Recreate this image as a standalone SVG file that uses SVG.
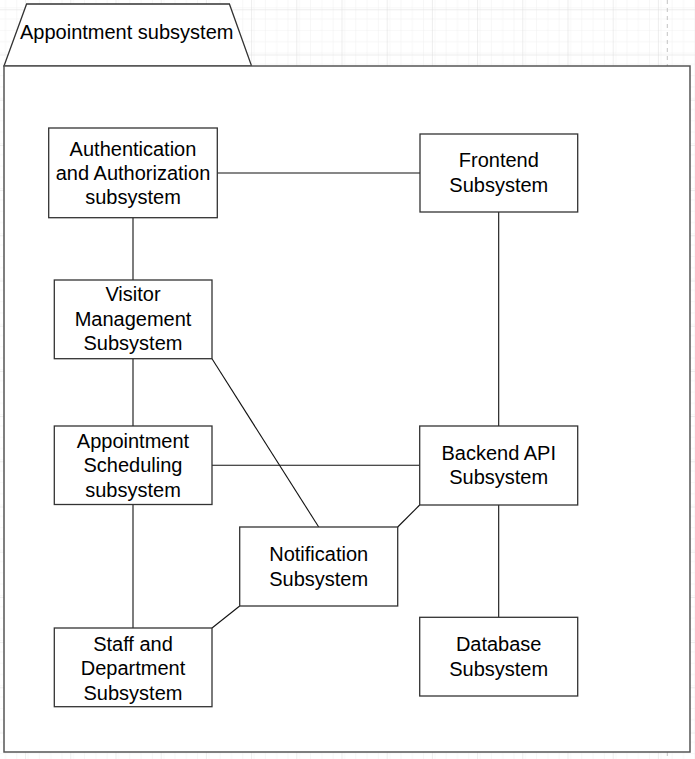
<svg xmlns="http://www.w3.org/2000/svg" width="695" height="759" viewBox="0 0 695 759">
<defs>
<pattern id="minor" patternUnits="userSpaceOnUse" x="2.5" y="9.3" width="11.3" height="11.3">
<path d="M0,0 H11.3 M0,0 V11.3" fill="none" stroke="#f0f0f0" stroke-width="1"/>
</pattern>
<pattern id="major" patternUnits="userSpaceOnUse" x="25.1" y="9.3" width="45.2" height="45.2">
<rect width="45.2" height="45.2" fill="url(#minor)"/>
<path d="M0,0 H45.2 M0,0 V45.2" fill="none" stroke="#dcdcdc" stroke-width="1"/>
</pattern>
</defs>
<style>
.box{fill:#fff;stroke:#333;stroke-width:1.3}
.lbl{font-family:"Liberation Sans",Arial,sans-serif;font-size:20px;fill:#000;text-anchor:middle}
.edge{stroke:#111;stroke-width:1.1;fill:none}
</style>
<rect width="695" height="759" fill="#fff"/>
<rect width="695" height="759" fill="url(#major)"/>
<line x1="667.3" y1="0" x2="667.3" y2="759" stroke="#c4c4c4" stroke-width="1" stroke-dasharray="4,4"/>
<g id="container">
<path d="M4,66 L26.6,4 L229.4,4 L251.6,66 Z" fill="#fff" stroke="#333" stroke-width="1.3"/>
<rect x="4" y="66" width="686" height="686" fill="#fff" stroke="#555" stroke-width="1.5"/>
<text x="20" y="39" style="font-family:'Liberation Sans',Arial,sans-serif;font-size:20px;fill:#000">Appointment subsystem</text>
</g>
<g id="connectors">
<line class="edge" x1="217.3" y1="173" x2="420" y2="173"/>
<line class="edge" x1="133" y1="217.7" x2="133" y2="280"/>
<line class="edge" x1="133" y1="358.7" x2="133" y2="426"/>
<line class="edge" x1="133" y1="504.5" x2="133" y2="628"/>
<line class="edge" x1="498.7" y1="212" x2="498.7" y2="426"/>
<line class="edge" x1="212" y1="465.3" x2="419.7" y2="465.3"/>
<line class="edge" x1="212" y1="358.7" x2="318.7" y2="527"/>
<line class="edge" x1="419.7" y1="505" x2="397.7" y2="527"/>
<line class="edge" x1="239.7" y1="606" x2="212" y2="628"/>
<line class="edge" x1="498.7" y1="505" x2="498.7" y2="617.3"/>
</g>
<g id="auth">
<rect class="box" x="48.7" y="128" width="168.6" height="89.7"/>
<text class="lbl" x="133" y="156.3">Authentication</text>
<text class="lbl" x="133" y="180.3">and Authorization</text>
<text class="lbl" x="133" y="204.3">subsystem</text>
</g>
<g id="frontend">
<rect class="box" x="420" y="134" width="157.7" height="78"/>
<text class="lbl" x="498.8" y="167">Frontend</text>
<text class="lbl" x="498.8" y="191.5">Subsystem</text>
</g>
<g id="visitor">
<rect class="box" x="54.3" y="280" width="157.7" height="78.7"/>
<text class="lbl" x="133" y="301.3">Visitor</text>
<text class="lbl" x="133" y="326">Management</text>
<text class="lbl" x="133" y="350.3">Subsystem</text>
</g>
<g id="scheduling">
<rect class="box" x="54.3" y="426" width="157.7" height="78.5"/>
<text class="lbl" x="133" y="448">Appointment</text>
<text class="lbl" x="133" y="472.3">Scheduling</text>
<text class="lbl" x="133" y="497">subsystem</text>
</g>
<g id="backend">
<rect class="box" x="419.7" y="426" width="158" height="79"/>
<text class="lbl" x="498.7" y="460.3">Backend API</text>
<text class="lbl" x="498.7" y="484.3">Subsystem</text>
</g>
<g id="notification">
<rect class="box" x="239.7" y="527" width="158" height="79"/>
<text class="lbl" x="318.7" y="561.3">Notification</text>
<text class="lbl" x="318.7" y="586">Subsystem</text>
</g>
<g id="database">
<rect class="box" x="419.7" y="617.3" width="158" height="78.7"/>
<text class="lbl" x="498.7" y="651.3">Database</text>
<text class="lbl" x="498.7" y="676">Subsystem</text>
</g>
<g id="staff">
<rect class="box" x="54.3" y="628" width="157.7" height="78.7"/>
<text class="lbl" x="133" y="651">Staff and</text>
<text class="lbl" x="133" y="675.3">Department</text>
<text class="lbl" x="133" y="699.5">Subsystem</text>
</g>
</svg>
